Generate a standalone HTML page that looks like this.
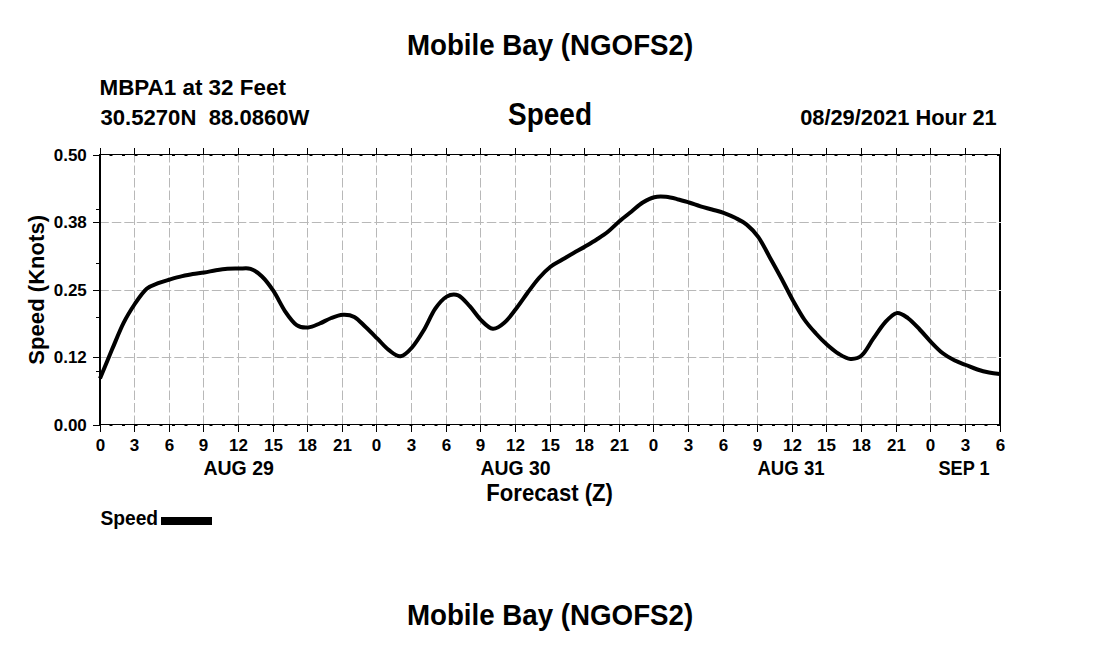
<!DOCTYPE html>
<html><head><meta charset="utf-8"><style>
html,body{margin:0;padding:0;background:#fff;}
svg{display:block;}
text{font-family:"Liberation Sans", sans-serif;font-weight:bold;fill:#000;}
.g{stroke:#b8b8b8;stroke-width:1;stroke-dasharray:9.5 3;}
.ax{stroke:#000;stroke-width:1;}
.axd{stroke:#000;stroke-width:1;stroke-dasharray:3 9.5;stroke-dashoffset:-9.5;}
.gh{stroke-dashoffset:0.7;}
.axl{stroke:#000;stroke-width:2;}
.t{stroke:#000;stroke-width:1;fill:none;}
.c{fill:none;stroke:#000;stroke-width:4;stroke-linejoin:round;stroke-linecap:butt;}
</style></head><body>
<svg width="1100" height="650" viewBox="0 0 1100 650">
<rect width="1100" height="650" fill="#fff"/>
<text transform="translate(406.96,54.90) scale(0.9608,1)" font-size="28.84">Mobile Bay (NGOFS2)</text>
<text transform="translate(99.48,94.80) scale(0.9823,1)" font-size="22.83">MBPA1 at 32 Feet</text>
<text transform="translate(100.51,124.63) scale(0.9777,1)" font-size="22.62" xml:space="preserve">30.5270N  88.0860W</text>
<text transform="translate(508.06,125.39) scale(0.9108,1)" font-size="30.70">Speed</text>
<text transform="translate(800.13,124.57) scale(0.9634,1)" font-size="22.68">08/29/2021 Hour 21</text>
<text transform="translate(44.00,364.66) rotate(-90) scale(0.9969,1)" font-size="22.17">Speed (Knots)</text>
<line x1="134.5" y1="425" x2="134.5" y2="155" class="g"/>
<line x1="169.5" y1="425" x2="169.5" y2="155" class="g"/>
<line x1="203.5" y1="425" x2="203.5" y2="155" class="g"/>
<line x1="238.5" y1="425" x2="238.5" y2="155" class="g"/>
<line x1="273.5" y1="425" x2="273.5" y2="155" class="g"/>
<line x1="307.5" y1="425" x2="307.5" y2="155" class="g"/>
<line x1="342.5" y1="425" x2="342.5" y2="155" class="g"/>
<line x1="376.5" y1="425" x2="376.5" y2="155" class="g"/>
<line x1="411.5" y1="425" x2="411.5" y2="155" class="g"/>
<line x1="446.5" y1="425" x2="446.5" y2="155" class="g"/>
<line x1="480.5" y1="425" x2="480.5" y2="155" class="g"/>
<line x1="515.5" y1="425" x2="515.5" y2="155" class="g"/>
<line x1="550.5" y1="425" x2="550.5" y2="155" class="g"/>
<line x1="584.5" y1="425" x2="584.5" y2="155" class="g"/>
<line x1="619.5" y1="425" x2="619.5" y2="155" class="g"/>
<line x1="653.5" y1="425" x2="653.5" y2="155" class="g"/>
<line x1="688.5" y1="425" x2="688.5" y2="155" class="g"/>
<line x1="723.5" y1="425" x2="723.5" y2="155" class="g"/>
<line x1="757.5" y1="425" x2="757.5" y2="155" class="g"/>
<line x1="792.5" y1="425" x2="792.5" y2="155" class="g"/>
<line x1="826.5" y1="425" x2="826.5" y2="155" class="g"/>
<line x1="861.5" y1="425" x2="861.5" y2="155" class="g"/>
<line x1="896.5" y1="425" x2="896.5" y2="155" class="g"/>
<line x1="930.5" y1="425" x2="930.5" y2="155" class="g"/>
<line x1="965.5" y1="425" x2="965.5" y2="155" class="g"/>
<line x1="100" y1="357.5" x2="1000" y2="357.5" class="g gh"/>
<line x1="100" y1="290.5" x2="1000" y2="290.5" class="g gh"/>
<line x1="100" y1="222.5" x2="1000" y2="222.5" class="g gh"/>
<line x1="99" y1="154.5" x2="1001" y2="154.5" class="ax"/>
<line x1="99" y1="424.5" x2="1001" y2="424.5" class="ax"/>
<line x1="100" y1="155.5" x2="1000" y2="155.5" class="axd"/>
<line x1="100" y1="425.5" x2="1000" y2="425.5" class="axd"/>
<line x1="100" y1="154" x2="100" y2="426" class="axl"/>
<line x1="1000" y1="154" x2="1000" y2="426" class="axl"/>
<rect x="999" y="222" width="2" height="1" fill="#dcdcdc"/>
<rect x="999" y="290" width="2" height="1" fill="#dcdcdc"/>
<rect x="999" y="357" width="2" height="1" fill="#dcdcdc"/>
<path d="M100.5,148V154M100.5,425V432M134.5,148V154M134.5,425V432M169.5,148V154M169.5,425V432M203.5,148V154M203.5,425V432M238.5,148V154M238.5,425V432M273.5,148V154M273.5,425V432M307.5,148V154M307.5,425V432M342.5,148V154M342.5,425V432M376.5,148V154M376.5,425V432M411.5,148V154M411.5,425V432M446.5,148V154M446.5,425V432M480.5,148V154M480.5,425V432M515.5,148V154M515.5,425V432M550.5,148V154M550.5,425V432M584.5,148V154M584.5,425V432M619.5,148V154M619.5,425V432M653.5,148V154M653.5,425V432M688.5,148V154M688.5,425V432M723.5,148V154M723.5,425V432M757.5,148V154M757.5,425V432M792.5,148V154M792.5,425V432M826.5,148V154M826.5,425V432M861.5,148V154M861.5,425V432M896.5,148V154M896.5,425V432M930.5,148V154M930.5,425V432M965.5,148V154M965.5,425V432M1000.5,148V154M1000.5,425V432M93,425.5H99M93,357.5H99M93,290.5H99M93,222.5H99M93,155.5H99M96,371.5H99M96,317.5H99M96,263.5H99M96,209.5H99" class="t"/>
<text x="86.8" y="431.3" text-anchor="end" font-size="17">0.00</text>
<text x="86.8" y="363.3" text-anchor="end" font-size="17">0.12</text>
<text x="86.8" y="296.3" text-anchor="end" font-size="17">0.25</text>
<text x="86.8" y="228.3" text-anchor="end" font-size="17">0.38</text>
<text x="86.8" y="161.3" text-anchor="end" font-size="17">0.50</text>
<text x="100.5" y="450.9" text-anchor="middle" font-size="17">0</text>
<text x="134.5" y="450.9" text-anchor="middle" font-size="17">3</text>
<text x="169.5" y="450.9" text-anchor="middle" font-size="17">6</text>
<text x="203.5" y="450.9" text-anchor="middle" font-size="17">9</text>
<text x="238.5" y="450.9" text-anchor="middle" font-size="17">12</text>
<text x="273.5" y="450.9" text-anchor="middle" font-size="17">15</text>
<text x="307.5" y="450.9" text-anchor="middle" font-size="17">18</text>
<text x="342.5" y="450.9" text-anchor="middle" font-size="17">21</text>
<text x="376.5" y="450.9" text-anchor="middle" font-size="17">0</text>
<text x="411.5" y="450.9" text-anchor="middle" font-size="17">3</text>
<text x="446.5" y="450.9" text-anchor="middle" font-size="17">6</text>
<text x="480.5" y="450.9" text-anchor="middle" font-size="17">9</text>
<text x="515.5" y="450.9" text-anchor="middle" font-size="17">12</text>
<text x="550.5" y="450.9" text-anchor="middle" font-size="17">15</text>
<text x="584.5" y="450.9" text-anchor="middle" font-size="17">18</text>
<text x="619.5" y="450.9" text-anchor="middle" font-size="17">21</text>
<text x="653.5" y="450.9" text-anchor="middle" font-size="17">0</text>
<text x="688.5" y="450.9" text-anchor="middle" font-size="17">3</text>
<text x="723.5" y="450.9" text-anchor="middle" font-size="17">6</text>
<text x="757.5" y="450.9" text-anchor="middle" font-size="17">9</text>
<text x="792.5" y="450.9" text-anchor="middle" font-size="17">12</text>
<text x="826.5" y="450.9" text-anchor="middle" font-size="17">15</text>
<text x="861.5" y="450.9" text-anchor="middle" font-size="17">18</text>
<text x="896.5" y="450.9" text-anchor="middle" font-size="17">21</text>
<text x="930.5" y="450.9" text-anchor="middle" font-size="17">0</text>
<text x="965.5" y="450.9" text-anchor="middle" font-size="17">3</text>
<text x="1000.5" y="450.9" text-anchor="middle" font-size="17">6</text>
<text transform="translate(203.41,475.00) scale(0.9689,1)" font-size="20.15">AUG 29</text>
<text transform="translate(480.42,475.00) scale(0.9732,1)" font-size="20.00">AUG 30</text>
<text transform="translate(757.44,475.00) scale(0.9296,1)" font-size="20.00">AUG 31</text>
<text transform="translate(938.46,474.60) scale(0.9206,1)" font-size="19.72">SEP 1</text>
<text transform="translate(486.35,501.00) scale(0.9541,1)" font-size="23.19">Forecast (Z)</text>
<path d="M100.0,378.6 C102.0,373.8 108.1,358.9 112.0,349.6 C116.0,340.3 119.7,330.6 123.6,322.9 C127.4,315.2 131.3,309.2 135.1,303.5 C139.0,297.8 142.8,292.2 146.7,288.8 C150.5,285.4 154.3,284.8 158.2,283.2 C162.0,281.6 165.9,280.6 169.7,279.5 C173.6,278.4 177.4,277.3 181.3,276.4 C185.1,275.5 189.0,274.6 192.8,274.0 C196.7,273.4 200.5,273.1 204.3,272.5 C208.2,271.9 212.0,270.9 215.9,270.3 C219.7,269.7 223.6,269.1 227.4,268.8 C231.3,268.5 235.1,268.6 239.0,268.6 C242.8,268.6 246.7,267.5 250.5,268.8 C254.3,270.1 258.2,272.8 262.0,276.5 C265.9,280.2 269.7,285.4 273.6,291.2 C277.4,297.0 281.3,305.6 285.1,311.3 C289.0,317.0 292.8,322.4 296.7,325.1 C300.5,327.8 304.3,327.8 308.2,327.5 C312.0,327.2 315.9,325.1 319.7,323.5 C323.6,321.9 327.4,319.5 331.3,318.0 C335.1,316.5 339.0,314.9 342.8,314.7 C346.7,314.5 350.5,314.8 354.3,316.9 C358.2,319.0 362.0,323.7 365.9,327.3 C369.7,330.9 373.6,334.9 377.4,338.7 C381.3,342.5 385.1,347.3 389.0,350.2 C392.8,353.1 396.7,356.8 400.5,356.3 C404.3,355.9 408.2,351.8 412.0,347.5 C415.9,343.2 419.7,336.9 423.6,330.5 C427.4,324.1 431.3,314.5 435.1,308.9 C439.0,303.2 442.8,298.9 446.7,296.6 C450.5,294.3 454.3,293.7 458.2,295.3 C462.0,296.9 465.9,302.0 469.7,306.2 C473.6,310.4 477.4,316.6 481.3,320.4 C485.1,324.2 489.0,328.4 492.8,328.8 C496.7,329.2 500.5,326.1 504.3,322.8 C508.2,319.5 512.0,314.0 515.9,309.0 C519.7,304.0 523.6,298.2 527.4,293.0 C531.3,287.8 535.1,282.4 539.0,278.0 C542.8,273.6 546.7,269.7 550.5,266.7 C554.3,263.7 558.2,262.1 562.0,259.8 C565.9,257.5 569.7,255.2 573.6,253.0 C577.4,250.8 581.3,248.8 585.1,246.5 C589.0,244.2 592.8,242.0 596.7,239.5 C600.5,237.0 604.3,234.6 608.2,231.5 C612.0,228.4 615.9,224.3 619.7,221.0 C623.6,217.7 627.4,214.8 631.3,211.7 C635.1,208.6 639.0,204.9 642.8,202.5 C646.7,200.1 650.5,198.1 654.3,197.2 C658.2,196.2 662.0,196.5 665.9,196.8 C669.7,197.1 673.6,198.2 677.4,199.2 C681.3,200.1 685.1,201.3 689.0,202.5 C692.8,203.7 696.7,205.1 700.5,206.3 C704.3,207.5 708.2,208.4 712.0,209.5 C715.9,210.6 719.7,211.4 723.6,212.8 C727.4,214.2 731.3,215.8 735.1,217.8 C739.0,219.8 742.8,221.4 746.7,224.6 C750.5,227.8 754.3,231.4 758.2,236.8 C762.0,242.2 765.9,250.3 769.7,257.2 C773.6,264.1 777.4,271.0 781.3,278.2 C785.1,285.4 789.0,293.3 792.8,300.2 C796.7,307.1 800.5,313.9 804.3,319.5 C808.2,325.1 812.0,329.2 815.9,333.5 C819.7,337.8 823.6,341.6 827.4,345.0 C831.3,348.4 835.1,351.7 839.0,354.0 C842.8,356.3 846.7,358.7 850.5,358.9 C854.3,359.1 858.2,358.6 862.0,355.1 C865.9,351.7 869.7,343.6 873.6,338.2 C877.4,332.8 881.3,326.6 885.1,322.4 C889.0,318.2 892.8,313.8 896.7,313.1 C900.5,312.4 904.3,315.6 908.2,318.3 C912.0,321.0 915.9,325.5 919.7,329.5 C923.6,333.5 927.4,338.3 931.3,342.3 C935.1,346.3 939.0,350.3 942.8,353.3 C946.7,356.3 950.5,358.4 954.3,360.3 C958.2,362.2 962.0,363.5 965.9,365.0 C969.7,366.5 973.6,368.2 977.4,369.5 C981.3,370.8 985.2,371.8 989.0,372.5 C992.7,373.2 998.2,373.8 1000.0,374.0" class="c"/>
<text transform="translate(100.42,524.65) scale(0.9864,1)" font-size="19.51">Speed</text>
<rect x="161" y="517" width="51" height="8" fill="#000"/>
<text transform="translate(406.96,624.80) scale(0.9557,1)" font-size="28.99">Mobile Bay (NGOFS2)</text>
</svg>
</body></html>
